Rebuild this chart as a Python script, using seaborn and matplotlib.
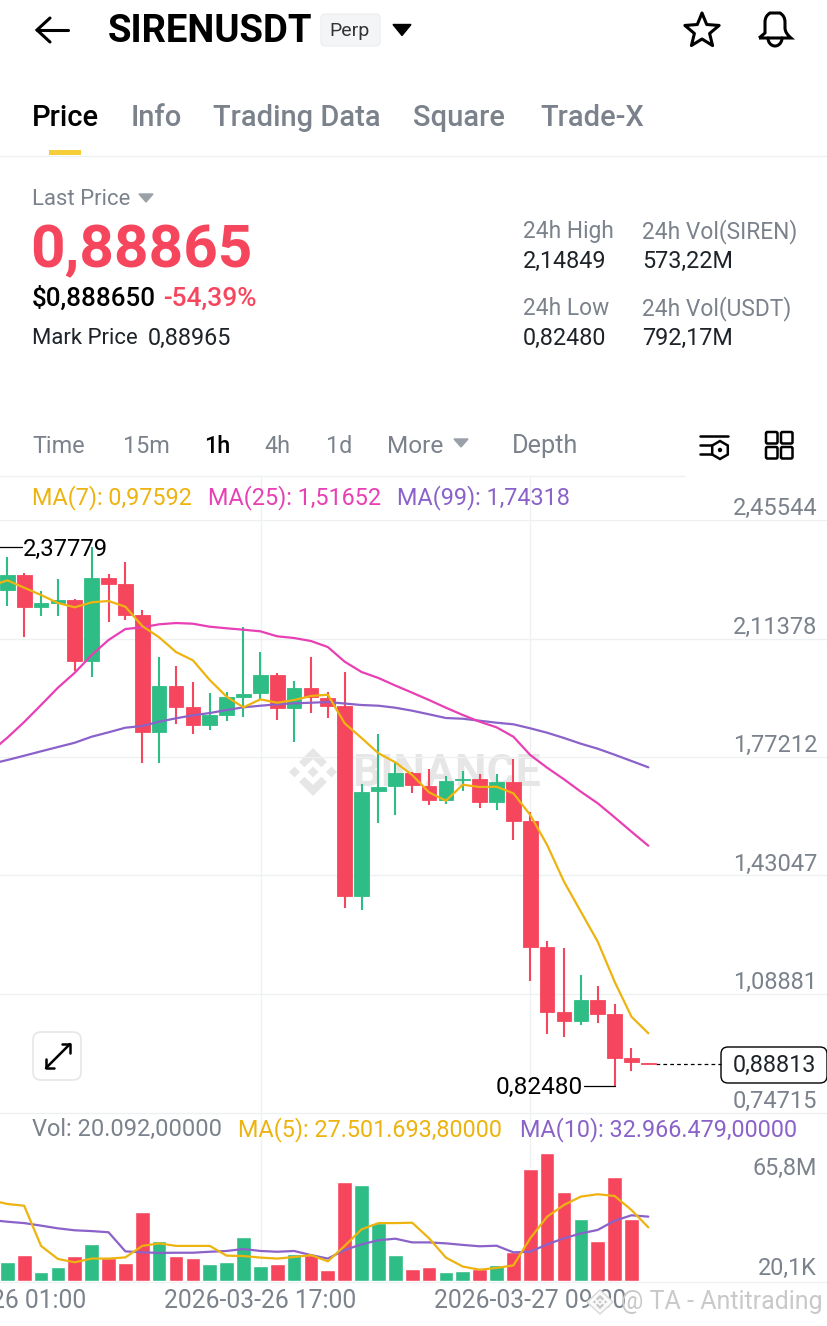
import numpy as np
import pandas as pd
import matplotlib
matplotlib.use("Agg")
import matplotlib.pyplot as plt
import seaborn as sns
from matplotlib.patches import FancyBboxPatch, Polygon, PathPatch, Circle
from matplotlib.path import Path

# Candles, one list per field
opens = [2.2545, 2.2968, 2.2037, 2.2153, 2.2248, 2.0480, 2.2882, 2.2717, 2.1815, 1.8433,
         1.9777, 1.9171, 1.8643, 1.8923, 1.9459, 1.9557, 2.0094, 1.9125, 1.9702, 1.9422,
         1.9191, 1.3713, 1.6741, 1.6885, 1.7268, 1.6885, 1.6481, 1.7049, 1.7087, 1.6423,
         1.6991, 1.5876, 1.2234, 1.0377, 1.0109, 1.0706, 1.0302, 0.9042, 0.8899]
highs = [2.3496, 2.3035, 2.2507, 2.2862, 2.2268, 2.3778, 2.2989, 2.3335, 2.1960, 2.0613,
         2.0345, 1.9875, 1.9566, 1.9586, 2.1469, 2.0757, 2.0134, 1.9921, 2.0613, 1.9586,
         2.0172, 1.6942, 1.8384, 1.7556, 1.7288, 1.7383, 1.7182, 1.7317, 1.7222, 1.7222,
         1.7654, 1.6135, 1.2424, 1.2223, 1.1427, 1.1118, 1.0599, 0.9322, 0.8899]
lows = [2.2075, 2.1190, 2.1795, 2.1795, 2.0201, 2.0028, 2.1605, 2.1680, 1.7548, 1.7548,
        1.8664, 1.8393, 1.8491, 1.8759, 1.8874, 1.9393, 1.8796, 1.8162, 1.8998, 1.8854,
        1.3376, 1.3318, 1.5809, 1.6049, 1.6691, 1.6346, 1.6366, 1.6741, 1.6259, 1.6201,
        1.5319, 1.1271, 0.9734, 0.9648, 0.9985, 1.0043, 0.8248, 0.8668, 0.8881]
closes = [2.2968, 2.2037, 2.2153, 2.2248, 2.0480, 2.2882, 2.2717, 2.1815, 1.8433, 1.9777,
          1.9171, 1.8643, 1.8923, 1.9459, 1.9537, 2.0094, 1.9125, 1.9702, 1.9451, 1.9200,
          1.3713, 1.6720, 1.6864, 1.7268, 1.6905, 1.6481, 1.7029, 1.7095, 1.6423, 1.6991,
          1.5876, 1.2234, 1.0377, 1.0109, 1.0706, 1.0320, 0.9042, 0.8918, 0.8881]
volumes = [9.9, 13.3, 4.8, 7.2, 13.0, 19.2, 11.6, 9.1, 35.6, 20.7,
           12.7, 12.0, 8.9, 9.6, 22.4, 7.9, 8.7, 13.7, 13.3, 5.6,
           50.6, 49.2, 29.6, 13.3, 6.2, 7.0, 4.4, 5.3, 6.0, 8.0,
           15.0, 57.3, 65.8, 45.8, 31.6, 20.7, 53.5, 31.8, 0.02]

# Moving averages start one candle left of the picture
ma7 = [2.2651, 2.2815, 2.2602, 2.2392, 2.2161, 2.2037, 2.2181, 2.2219, 2.2054, 2.1498,
       2.1172, 2.0748, 2.0509, 1.9941, 1.9459, 1.9154, 1.9384, 1.9286, 1.9364, 1.9480,
       1.9517, 1.8692, 1.8269, 1.7828, 1.7568, 1.7202, 1.6703, 1.6461, 1.6922, 1.6856,
       1.6864, 1.6674, 1.6049, 1.5184, 1.4126, 1.3261, 1.2396, 1.1242, 1.0233, 0.9754]
ma25 = [1.7865, 1.8277, 1.8730, 1.9220, 1.9719, 2.0151, 2.0662, 2.1094, 2.1411, 2.1460,
        2.1547, 2.1584, 2.1564, 2.1478, 2.1432, 2.1391, 2.1345, 2.1201, 2.1152, 2.1065,
        2.0892, 2.0469, 2.0172, 1.9999, 1.9782, 1.9575, 1.9364, 1.9142, 1.8932, 1.8739,
        1.8577, 1.8306, 1.7778, 1.7412, 1.7078, 1.6720, 1.6386, 1.5982, 1.5567, 1.5163]
ma99 = [1.7519, 1.7634, 1.7758, 1.7885, 1.8009, 1.8133, 1.8306, 1.8433, 1.8566, 1.8615,
        1.8739, 1.8837, 1.8923, 1.8989, 1.9076, 1.9154, 1.9200, 1.9240, 1.9269, 1.9286,
        1.9307, 1.9263, 1.9220, 1.9200, 1.9142, 1.9056, 1.8952, 1.8845, 1.8825, 1.8767,
        1.8710, 1.8664, 1.8548, 1.8421, 1.8269, 1.8104, 1.7960, 1.7787, 1.7606, 1.7424]
vol_ma5 = [41.5, 39.5, 38.6, 18.0, 11.3, 9.6, 11.5, 11.5, 12.1, 18.0,
           19.3, 18.0, 18.0, 18.0, 13.0, 12.8, 12.0, 11.5, 12.3, 13.3,
           10.1, 18.0, 26.5, 29.7, 29.7, 29.9, 21.9, 12.0, 7.4, 5.8,
           6.7, 8.0, 21.9, 33.0, 39.0, 43.3, 44.5, 43.6, 36.4, 27.5]
vol_ma10 = [31.3, 30.4, 29.7, 28.4, 27.0, 26.0, 25.6, 25.0, 15.2, 14.7,
            14.4, 14.5, 14.5, 15.0, 15.4, 16.4, 15.4, 15.0, 15.4, 13.3,
            11.5, 15.9, 18.8, 20.9, 21.7, 19.8, 19.8, 19.3, 18.5, 17.8,
            18.1, 14.7, 15.0, 18.8, 21.9, 24.4, 26.2, 30.9, 33.7, 33.0]

price_ticks = [2.45544, 2.11378, 1.77212, 1.43047, 1.08881, 0.74715]
price_labels = ["2,45544", "2,11378", "1,77212", "1,43047", "1,08881", "0,74715"]
date_idx = [-1, 15, 31]
date_labels = ["2026-03-26 01:00", "2026-03-26 17:00", "2026-03-27 09:00"]

RED = "#F6465D"
GREEN = "#2EBD85"
YELLOW = "#EDB30F"
PINK = "#E83FB4"
PURPLE = "#8A62C9"
GREY = "#7B828C"
GRID = "#EEF0F2"
W, H = 828, 1326
BODY = 16.8

sns.set_theme(style="white")
plt.rcParams["font.family"] = ["Roboto", "DejaVu Sans"]

fig = plt.figure(figsize=(W / 100, H / 100), dpi=100, facecolor="white")


def px_axes(left, top, right, bottom, zorder):
    ax = fig.add_axes([left / W, 1 - bottom / H, (right - left) / W, (bottom - top) / H], zorder=zorder)
    ax.patch.set_alpha(0)
    for s in ax.spines.values():
        s.set_visible(False)
    return ax


# Background layer in pixel coordinates for the app chrome
ui = px_axes(0, 0, W, H, 0)
ui.set_xlim(0, W)
ui.set_ylim(H, 0)
ui.axis("off")


def label(x, y, s, size=BODY, color=GREY, weight="normal", ha="left", target=None):
    (target or ui).text(x, y + 1.5, s, fontsize=size, color=color, fontweight=weight, ha=ha, va="center")


def tri(cx, cy, w, h, color):
    ui.add_patch(Polygon([(cx - w / 2, cy - h / 2), (cx + w / 2, cy - h / 2), (cx, cy + h / 2)], fc=color, ec=color, lw=1))


def binance_logo(ax, cx, cy, k, color):
    diamond = np.array([(0, -5.5), (5.5, 0), (0, 5.5), (-5.5, 0)])
    chevron = np.array([(0, -24), (14, -10), (8.5, -4.8), (0, -13), (-8.5, -4.8), (-14, -10)])
    for shape in (diamond, diamond + (-18.5, 0), diamond + (18.5, 0), chevron, chevron * (1, -1)):
        ax.add_patch(Polygon(shape * k + (cx, cy), fc=color, ec="none"))


# Header
ui.plot([37, 68], [30, 30], color="black", lw=2.2)
ui.plot([50, 37, 50], [18, 30, 42], color="black", lw=2.2, solid_joinstyle="miter")
label(108, 30, "SIRENUSDT", size=27.5, color="black", weight="bold")
ui.add_patch(FancyBboxPatch((321, 14), 59, 32, boxstyle="round,pad=0,rounding_size=4", fc="#F4F5F6", ec="#ECEDEE", lw=0.8))
label(350, 30, "Perp", size=14, color="#333333", ha="center")
tri(402, 30, 18, 11, "black")
angles = np.deg2rad(np.arange(10) * 36 - 90)
radii = np.where(np.arange(10) % 2 == 0, 18, 8)
ui.add_patch(Polygon(np.c_[702 + radii * np.cos(angles), 31 + radii * np.sin(angles)], fc="none", ec="black", lw=2.2, joinstyle="round"))
bell = Path([(759, 38), (765, 33), (765, 28), (765, 22), (765, 16), (770, 13), (775, 13),
             (780, 13), (785, 16), (785, 22), (785, 28), (785, 33), (791, 38), (759, 38)],
            [Path.MOVETO, Path.LINETO, Path.CURVE3, Path.CURVE3, Path.CURVE3, Path.CURVE3, Path.CURVE3,
             Path.CURVE3, Path.CURVE3, Path.CURVE3, Path.LINETO, Path.CURVE3, Path.CURVE3, Path.LINETO])
ui.add_patch(PathPatch(bell, fc="none", ec="black", lw=2.2))
ui.plot(775 + 7 * np.cos(np.linspace(0, np.pi, 20)), 38 + 8 * np.sin(np.linspace(0, np.pi, 20)), color="black", lw=2.2)

# Tabs
label(32, 116, "Price", size=21, color="black", weight="medium")
for x, s in [(131, "Info"), (213, "Trading Data"), (413, "Square"), (540, "Trade-X")]:
    label(x, 116, s, size=21, color=GREY, weight="medium")
ui.fill_between([49, 81], 150, 155, color="#F5CE3A", lw=0)
ui.plot([0, W], [155.5, 155.5], color=GRID, lw=1)

# Price summary
label(32, 198, "Last Price", size=15.9)
tri(146, 198, 14, 8, "#9AA0A8")
label(30.5, 250, "0,88865", size=43.4, color=RED, weight="bold")
label(32, 297, "$0,888650", size=18.7, color="black", weight="medium")
label(163, 297, "-54,39%", size=19, color=RED, weight="medium")
label(32, 337, "Mark Price", size=15.9, color="#1E2329")
label(148, 337, "0,88965", size=BODY, color="#1E2329")
for x, y, head, val in [(523, 230, "24h High", "2,14849"), (642, 230, "24h Vol(SIREN)", "573,22M"),
                        (523, 307, "24h Low", "0,82480"), (642, 307, "24h Vol(USDT)", "792,17M")]:
    label(x, y, head, size=16.4)
    label(x, y + 30, val, size=BODY, color="#1E2329")

# Interval row
for x, s, size in [(32, "Time", BODY), (123, "15m", BODY), (264, "4h", BODY), (326, "1d", BODY),
                   (387, "More", 17.6), (512, "Depth", 18.2)]:
    label(x, 445, s, size=size)
label(204, 445, "1h", size=BODY, color="black", weight="medium")
tri(461, 443, 14, 8, "#9AA0A8")
for y, x1 in [(436, 728), (445, 712), (454, 712)]:
    ui.plot([700, x1], [y, y], color="black", lw=1.8)
hex_a = np.deg2rad(np.arange(6) * 60 + 30)
ui.add_patch(Polygon(np.c_[720 + 9 * np.cos(hex_a), 450 + 9 * np.sin(hex_a)], fc="white", ec="black", lw=1.8))
ui.add_patch(Circle((720, 450), 2.2, fc="black", ec="none"))
for x, y in [(766, 432), (781, 432), (766, 447), (781, 447)]:
    ui.add_patch(FancyBboxPatch((x, y), 11.5, 11.5, boxstyle="round,pad=0,rounding_size=1.5", fc="none", ec="black", lw=1.8))

# Chart frame and watermark
ui.plot([0, 685], [476, 476], color=GRID, lw=1)
for x in (260.7, 530.3):
    ui.plot([x, x], [477, 1281], color=GRID, lw=1)
binance_logo(ui, 313, 772, 1, "#E6E6E6")
label(352, 772, "BINANCE", size=32, color="#E6E6E6", weight="bold")
label(32, 496, "MA(7): 0,97592", size=BODY, color=YELLOW)
label(208, 496, "MA(25): 1,51652", size=BODY, color=PINK)
label(397, 496, "MA(99): 1,74318", size=BODY, color=PURPLE)
label(32, 1128, "Vol: 20.092,00000", size=17)
label(238, 1128, "MA(5): 27.501.693,80000", size=BODY, color=YELLOW)
label(520, 1128, "MA(10): 32.966.479,00000", size=BODY, color=PURPLE)

# Expand button
ui.add_patch(FancyBboxPatch((33, 1032), 48, 48, boxstyle="round,pad=0,rounding_size=8", fc="white", ec="#E4E6E8", lw=1.2))
ui.plot([46, 70], [1068, 1044], color="black", lw=1.8)
ui.plot([46, 46, 54], [1059, 1068, 1068], color="black", lw=1.8)
ui.plot([62, 70, 70], [1044, 1044, 1053], color="black", lw=1.8)

idx = np.arange(len(closes))
ma_idx = np.arange(-1, len(closes))
x_limits = (-7.3 / 16.87, (W - 7.3) / 16.87)
up = np.array(closes) >= np.array(opens)
colors = np.where(up, GREEN, RED)

# Price panel
ax = px_axes(0, 520, W, 1112.5, 2)
ax.vlines(idx, lows, highs, colors=colors, lw=1.5, zorder=2)
body_low = np.minimum(opens, closes)
ax.bar(idx, np.abs(np.array(closes) - np.array(opens)), bottom=body_low, width=0.87,
       color=colors, edgecolor=colors, lw=0.6, zorder=3)
sns.lineplot(x=ma_idx, y=ma99, color=PURPLE, lw=1.6, errorbar=None, ax=ax, zorder=4)
sns.lineplot(x=ma_idx, y=ma25, color=PINK, lw=1.6, errorbar=None, ax=ax, zorder=4)
sns.lineplot(x=ma_idx, y=ma7, color=YELLOW, lw=1.6, errorbar=None, ax=ax, zorder=5)
ax.set_yticks(price_ticks[:-1])
ax.set_xticks([])
ax.set_xlim(*x_limits)
ax.set_ylim(price_ticks[-1], price_ticks[0])
ax.grid(axis="y", color=GRID, lw=1)
ax.set_axisbelow(True)
ax.tick_params(left=False, labelleft=False)
ax.set(xlabel="", ylabel="")
tick_tf = ax.get_yaxis_transform()
for v, s in zip(price_ticks, price_labels):
    ax.annotate(s, xy=(0.987, v), xycoords=tick_tf, xytext=(0, 8.0), textcoords="offset points",
                ha="right", va="center", fontsize=17, color=GREY, annotation_clip=False)

# High, low and last price callouts
ax.plot([-1, 0.9], [2.37779, 2.37779], color="black", lw=0.9)
ax.annotate("2,37779", xy=(0.95, 2.37779), xytext=(0, -1.8), textcoords="offset points",
            fontsize=17.2, color="black", va="center", ha="left")
ax.plot([34.2, 36], [0.8248, 0.8248], color="black", lw=0.9)
ax.annotate("0,82480", xy=(34.1, 0.8248), xytext=(0, -1.2), textcoords="offset points",
            fontsize=17.6, color="black", va="center", ha="right")
ax.plot([38.45, 42.3], [0.88813, 0.88813], color="black", lw=0.9, ls=(0, (3, 2.5)))
ui.add_patch(FancyBboxPatch((721, 1047), 106, 36, boxstyle="round,pad=0,rounding_size=7", fc="white", ec="black", lw=1))
label(774, 1064, "0,88813", size=BODY, color="#1E2329", ha="center")

ui.plot([0, W], [1112.5, 1112.5], color=GRID, lw=1)
ui.plot([0, W], [1281.5, 1281.5], color=GRID, lw=1)

# Volume panel
ax_v = px_axes(0, 1152.7, W, 1281, 2)
vol_df = pd.DataFrame({"idx": idx, "vol": volumes, "side": np.where(up, "up", "down")})
sns.barplot(data=vol_df, x="idx", y="vol", hue="side", palette={"up": GREEN, "down": RED}, dodge=False,
            native_scale=True, width=0.87, saturation=1, legend=False, ax=ax_v, zorder=2)
sns.lineplot(x=ma_idx, y=vol_ma10, color=PURPLE, lw=1.6, errorbar=None, ax=ax_v, zorder=4)
sns.lineplot(x=ma_idx, y=vol_ma5, color=YELLOW, lw=1.6, errorbar=None, ax=ax_v, zorder=5)
ax_v.set_yticks([])
ax_v.set_xticks([])
ax_v.set_xlim(*x_limits)
ax_v.set_ylim(0, 65.8)
ax_v.set(xlabel="", ylabel="")
# Date labels are annotations so the first one can run off the left edge as in the app
for i, s in zip(date_idx, date_labels):
    ax_v.annotate(s, xy=(i, 0), xytext=(0, -14.6), textcoords="offset points", ha="center", va="center",
                  fontsize=17.7, color=GREY, annotation_clip=False)
label(817, 1167, "65,8M", size=BODY, ha="right")
label(817, 1267, "20,1K", size=BODY, ha="right")

# Repost mark across the bottom, above the date labels
top = px_axes(0, 0, W, H, 5)
top.set_xlim(0, W)
top.set_ylim(H, 0)
top.axis("off")
top.add_patch(Polygon([(600, 1290), (613, 1302), (600, 1314), (587, 1302)], fc="#FAFAFA", ec="#D8D8D8", lw=1))
binance_logo(top, 600, 1302, 0.3, "#C8C8C8")
label(621, 1300, "@ TA - Antitrading", size=18, color="#C9C9C9", target=top)

fig.savefig("out.png", dpi=100, facecolor="white")
